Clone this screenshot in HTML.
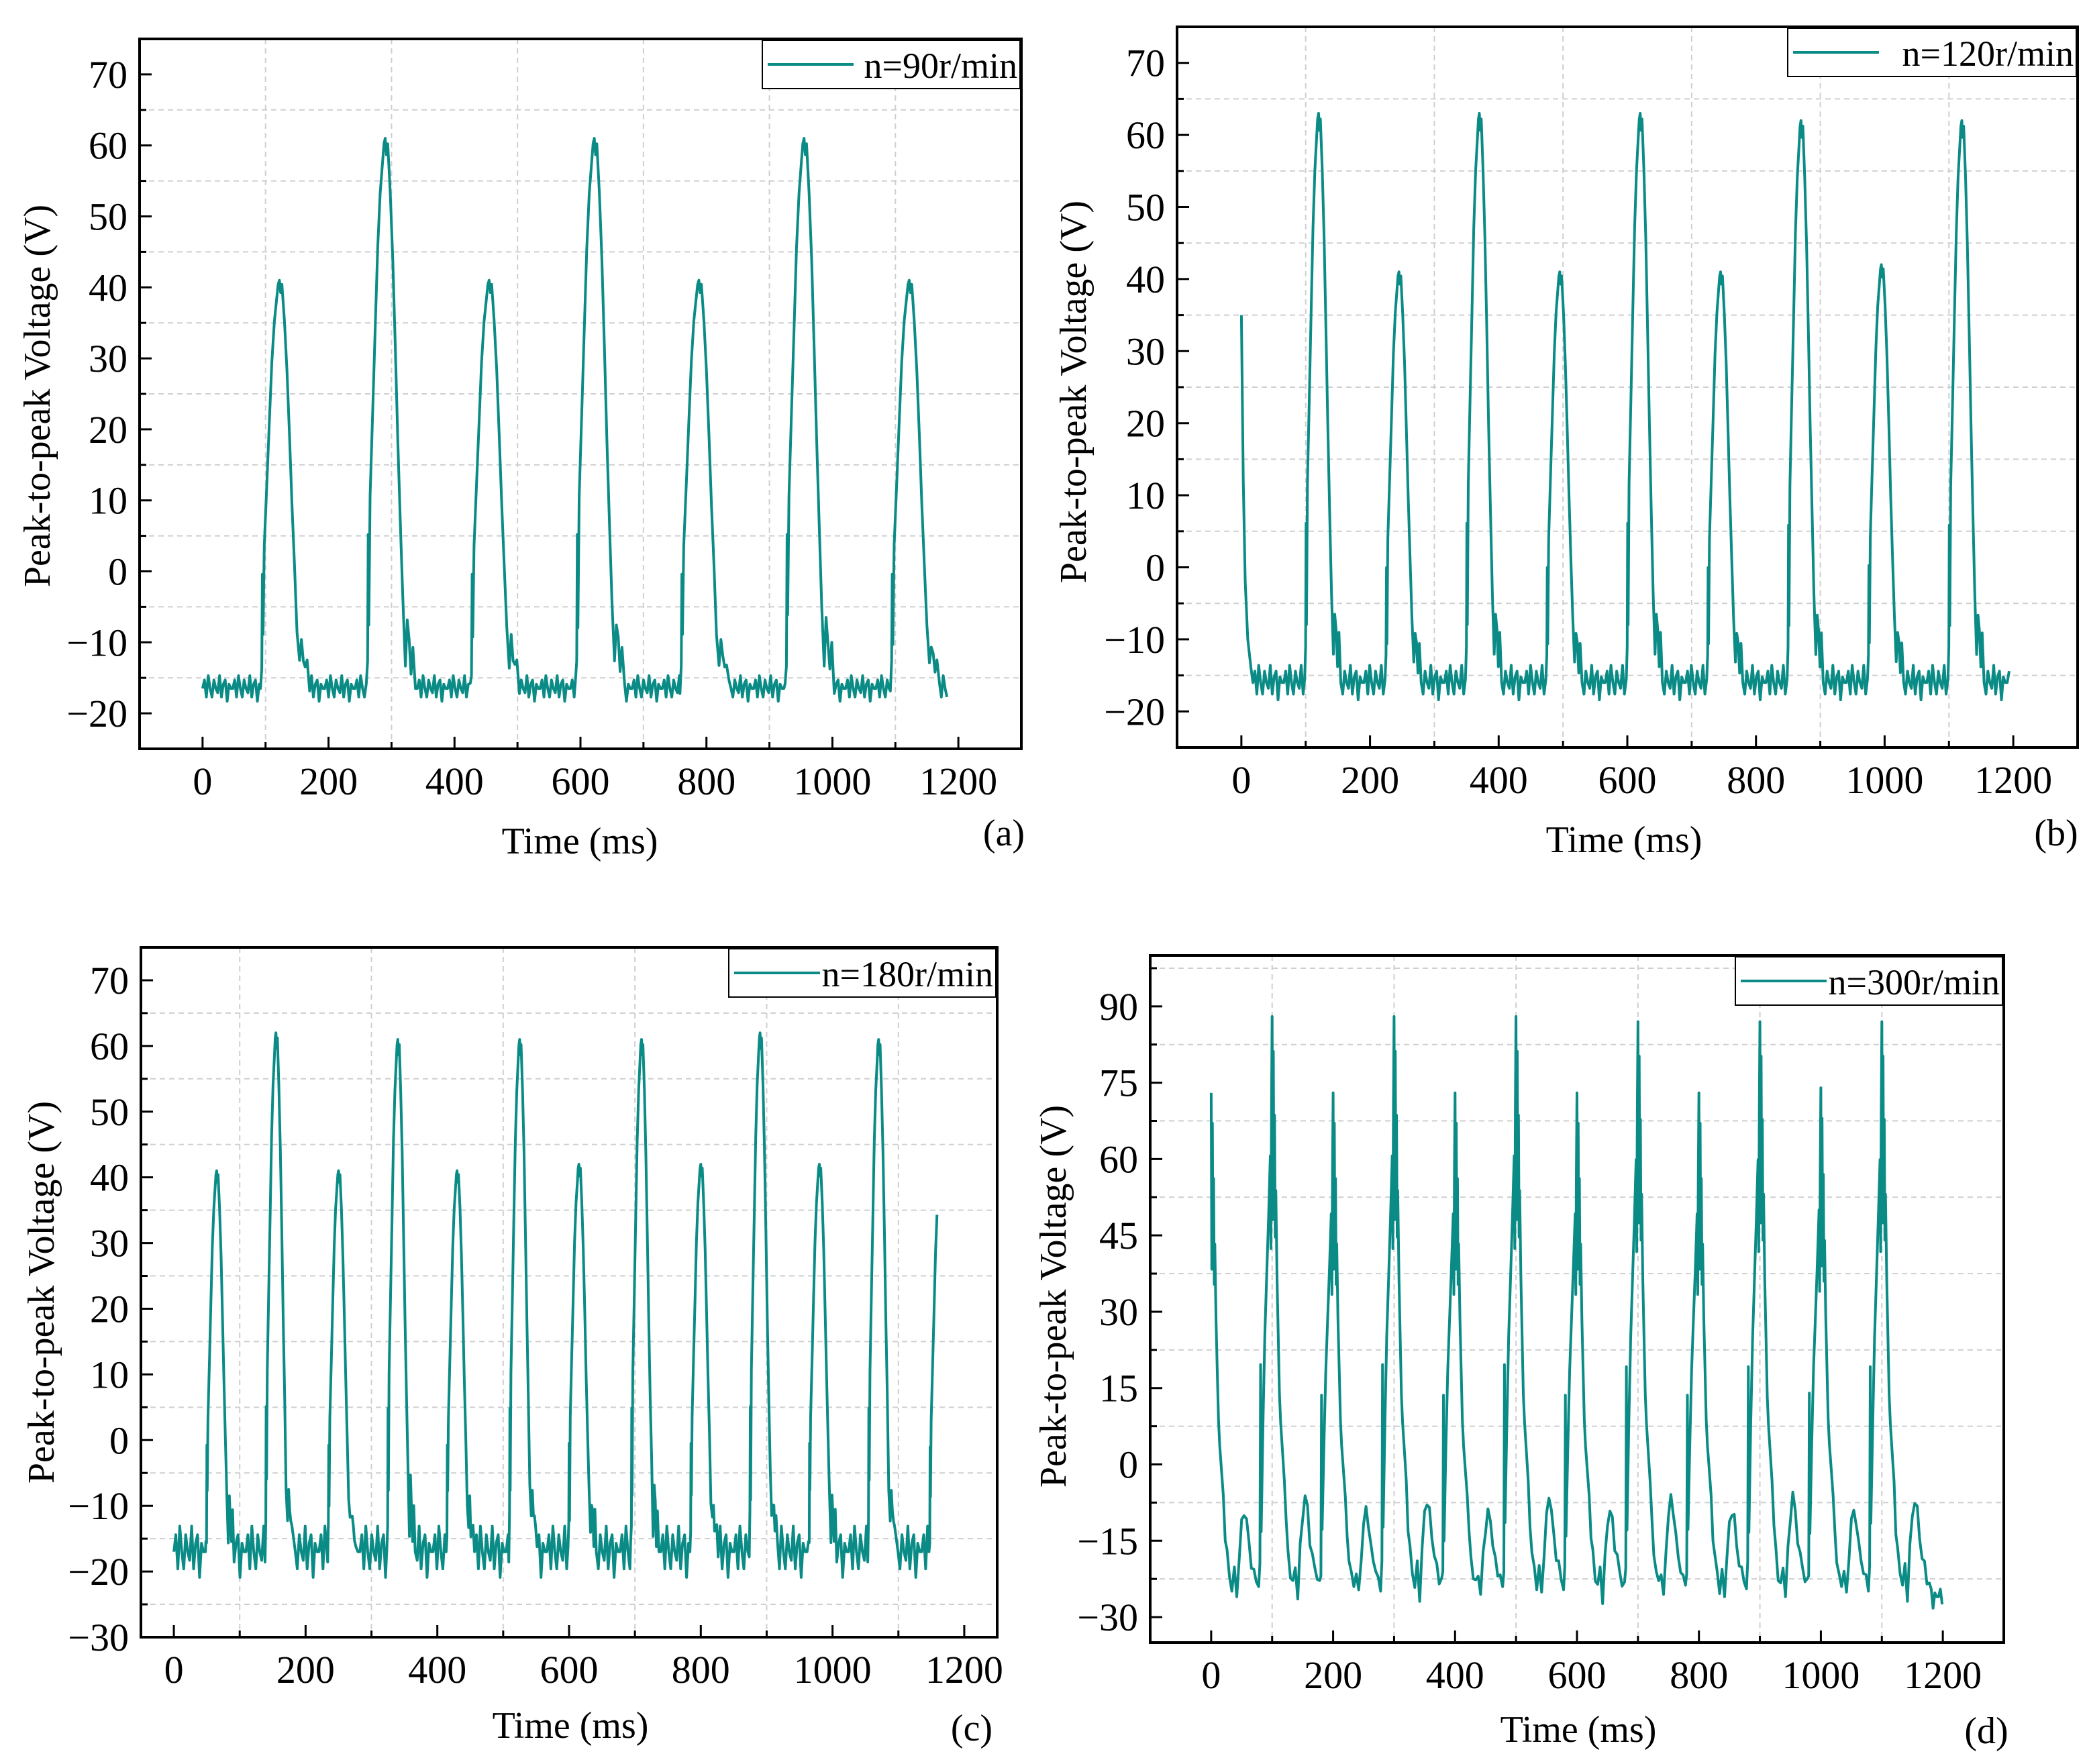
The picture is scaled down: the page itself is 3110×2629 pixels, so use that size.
<!DOCTYPE html>
<html><head><meta charset="utf-8"><style>
html,body{margin:0;padding:0;background:#fff}
svg text{font-family:"Liberation Serif",serif;fill:#000}
</style></head><body>
<svg id="fig" width="3110" height="2624" viewBox="0 0 3110 2624" font-family="Liberation Serif, serif" xmlns="http://www.w3.org/2000/svg"></svg>
<script>
// ---- data ----
const peaksA_t=[122,290,455,622,788,955,1122];
const peaksA_v=[41,61,41,61,41,61,41];
const peaksB_t=[120,245,370,495,620,745,870,995,1120];
const peaksB_v=[63,41,63,41,63,41,62,42,62];
const peaksC_t=[65,155,250,340,430,525,615,710,800,890,980,1070,1163];
const peaksC_v=[41,62,41,61,41,61,42,61,42,62,42,61,40];
const peaksD_t=[0,100,200,300,400,500,600,700,800,900,1000,1100];
const peaksD_v=[73,88,73,88,73,88,73,87,73,87,74,87];
const yTicksA=[-20,-10,0,10,20,30,40,50,60,70];
const yTicksC=[-30,-20,-10,0,10,20,30,40,50,60,70];
const yTicksD=[-30,-15,0,15,30,45,60,75,90];
const xTicks=[0,200,400,600,800,1000,1200];
const legendLabels=["n=90r/min","n=120r/min","n=180r/min","n=300r/min"];
// pulse shape templates (time offset ms, fraction of amplitude)
const tmplSmoothT=[-30,-28,-27,-26,-24,-20,-16,-12,-8,-4,-2,0,2,4,8,12,16,20,24,28,32,35,38,41,44,48];
const tmplSmoothF=[0,0.05,0.28,0.12,0.35,0.5,0.65,0.8,0.9,0.96,0.99,1,0.97,0.99,0.9,0.78,0.62,0.45,0.3,0.15,0.05,0.12,0.08,0.04,0.07,0];
const tmplSpikyT=[-20,-19,-18,-15,-12,-9,-6,-3,-2,-1,0,1,2,3,4,5,6,8,10,12,14,17,20,23,26,30,34,38,42,46,50,54,58,62,66,70,74,78];
const tmplSpikyF=[0.05,0.4,0.12,0.3,0.45,0.55,0.65,0.76,0.6,0.85,1,0.65,0.94,0.66,0.83,0.62,0.7,0.55,0.45,0.35,0.3,0.25,0.2,0.12,0.08,0.04,0.02,0.05,0,0.08,0.14,0.17,0.15,0.1,0.07,0.05,0.03,0.02];
const noisePattern=[0,1,-1,1.5,0,-1,1,0,-0.5,1.5,-1,0.5,1,-1.5,0.5,0];
const startB=[[0,35],[3,12],[6,-2],[10,-10],[15,-14]];

const NS="http://www.w3.org/2000/svg";
const FF='Liberation Serif, serif';
const svg=document.getElementById('fig');
function el(tag,attrs,parent){const e=document.createElementNS(NS,tag);for(const k in attrs)e.setAttribute(k,attrs[k]);(parent||svg).appendChild(e);return e;}

function buildSeries(pt,pv,base,tT,tF,scale,nAmp,t0,t1,start){
  const pts=[];let t=t0,k=0;
  if(start){start.forEach(p=>pts.push(p));t=start[start.length-1][0]+3;}
  for(let i=0;i<pt.length;i++){
    const s=pt[i]+tT[0]*scale;
    while(t<s){pts.push([t,base+noisePattern[k++%noisePattern.length]*nAmp]);t+=3;}
    for(let j=0;j<tT.length;j++){
      const tt=pt[i]+tT[j]*scale;
      let v=base+tF[j]*(pv[i]-base);
      if(tF[j]<0.2)v+=noisePattern[k++%noisePattern.length]*nAmp*0.6;
      pts.push([tt,v]);
    }
    t=pt[i]+tT[tT.length-1]*scale+3;
  }
  while(t<=t1){pts.push([t,base+noisePattern[k++%noisePattern.length]*nAmp]);t+=3;}
  return pts.filter(p=>p[0]>=t0&&p[0]<=t1);
}

function panel(c){
  const g=el('g',{});
  
  
  const X=v=>c.x0+(v-c.xd[0])/(c.xd[1]-c.xd[0])*(c.x1-c.x0);
  const Y=v=>c.y1-(v-c.yd[0])/(c.yd[1]-c.yd[0])*(c.y1-c.y0);
  for(let v=Math.ceil(c.xd[0]/200)*200+100;v<c.xd[1];v+=200){
    const l=el('line',{x1:X(v),x2:X(v),y1:c.y0,y2:c.y1,stroke:'#cfcfcf','stroke-width':2,'stroke-dasharray':'8,6'},g);
    }
  const ys=c.yt[1]-c.yt[0];
  for(let v=c.yt[0]-ys/2;v<c.yd[1];v+=ys){ if(v<=c.yd[0])continue;
    const l=el('line',{x1:c.x0,x2:c.x1,y1:Y(v),y2:Y(v),stroke:'#cfcfcf','stroke-width':2,'stroke-dasharray':'8,6'},g);
    }
  const pts=c.series;
  const pl=el('polyline',{points:pts.map(p=>X(p[0]).toFixed(1)+','+Y(p[1]).toFixed(1)).join(' '),fill:'none',stroke:'#0b8b86','stroke-width':4,'stroke-linejoin':'round'},g);
  
  const fr=el('rect',{x:c.x0,y:c.y0,width:c.x1-c.x0,height:c.y1-c.y0,fill:'none',stroke:'#000','stroke-width':4},g);
  
  c.yt.forEach(v=>{
    el('line',{x1:c.x0,x2:c.x0+18,y1:Y(v),y2:Y(v),stroke:'#000','stroke-width':3},g);
    const t=el('text',{x:c.x0-18,y:Y(v)+20,'text-anchor':'end','font-size':58,'font-family':FF},g);
    t.textContent=String(v).replace('-','\u2212');
    
    const m=v+ys/2; if(m<c.yd[1]) el('line',{x1:c.x0,x2:c.x0+10,y1:Y(m),y2:Y(m),stroke:'#000','stroke-width':3},g);
  });
  const mb=c.yt[0]-ys/2; if(mb>c.yd[0]) el('line',{x1:c.x0,x2:c.x0+10,y1:Y(mb),y2:Y(mb),stroke:'#000','stroke-width':3},g);
  xTicks.forEach(v=>{
    el('line',{x1:X(v),x2:X(v),y1:c.y1,y2:c.y1-18,stroke:'#000','stroke-width':3},g);
    if(v+100<c.xd[1]) el('line',{x1:X(v+100),x2:X(v+100),y1:c.y1,y2:c.y1-10,stroke:'#000','stroke-width':3},g);
    const t=el('text',{x:X(v),y:c.y1+68,'text-anchor':'middle','font-size':58,'font-family':FF},g);
    t.textContent=v;
  });
  const xt=el('text',{x:c.xtx,y:c.xty,'text-anchor':'middle','font-size':56,'font-family':FF},g);xt.textContent='Time (ms)';
  
  const yt=el('text',{x:0,y:0,'text-anchor':'middle','font-size':56,'font-family':FF,transform:`translate(${c.ytx},${c.yty}) rotate(-90)`},g);yt.textContent='Peak-to-peak Voltage (V)';
  
  const lb=el('text',{x:c.lx,y:c.ly,'text-anchor':'middle','font-size':56,'font-family':FF},g);lb.textContent=c.label;
  
  const lg=el('g',{},g);
  el('rect',{x:c.lgx,y:c.y0+2,width:c.x1-c.lgx-2,height:72,fill:'#fff',stroke:'#000','stroke-width':2},lg);
  el('line',{x1:c.lgx+8,x2:c.lgx+136,y1:c.y0+38,y2:c.y0+38,stroke:'#0b8b86','stroke-width':4},lg);
  const lt=el('text',{x:c.x1-6,y:c.y0+58,'text-anchor':'end','font-size':54,'font-family':FF},lg);lt.textContent=c.leg;
  
}

panel({name:'panel-a',x0:208,x1:1522,y0:58,y1:1116,xd:[-100,1300],yd:[-25,75],yt:yTicksA,
  series:buildSeries(peaksA_t,peaksA_v,-16.5,tmplSmoothT,tmplSmoothF,1,1.2,0,1183),
  xtx:864,xty:1272,ytx:74,yty:590,lx:1496,ly:1260,label:'(a)',lgx:1136,leg:legendLabels[0]});
panel({name:'panel-b',x0:1754,x1:3096,y0:40,y1:1114,xd:[-100,1300],yd:[-25,75],yt:yTicksA,
  series:buildSeries(peaksB_t,peaksB_v,-16,tmplSmoothT,tmplSmoothF,0.72,1.6,0,1195,startB),
  xtx:2420,xty:1270,ytx:1618,yty:584,lx:3064,ly:1260,label:'(b)',lgx:2664,leg:legendLabels[1]});
panel({name:'panel-c',x0:210,x1:1486,y0:1412,y1:2440,xd:[-50,1250],yd:[-30,75],yt:yTicksC,
  series:buildSeries(peaksC_t,peaksC_v,-17,tmplSmoothT,tmplSmoothF,0.55,2.6,0,1160),
  xtx:850,xty:2590,ytx:80,yty:1926,lx:1448,ly:2594,label:'(c)',lgx:1086,leg:legendLabels[2]});
panel({name:'panel-d',x0:1714,x1:2986,y0:1424,y1:2448,xd:[-100,1300],yd:[-35,100],yt:yTicksD,
  series:buildSeries(peaksD_t,peaksD_v,-26,tmplSpikyT,tmplSpikyF,1,1.5,0,1200),
  xtx:2352,xty:2596,ytx:1588,yty:1932,lx:2960,ly:2598,label:'(d)',lgx:2586,leg:legendLabels[3]});
</script>
</body></html>
